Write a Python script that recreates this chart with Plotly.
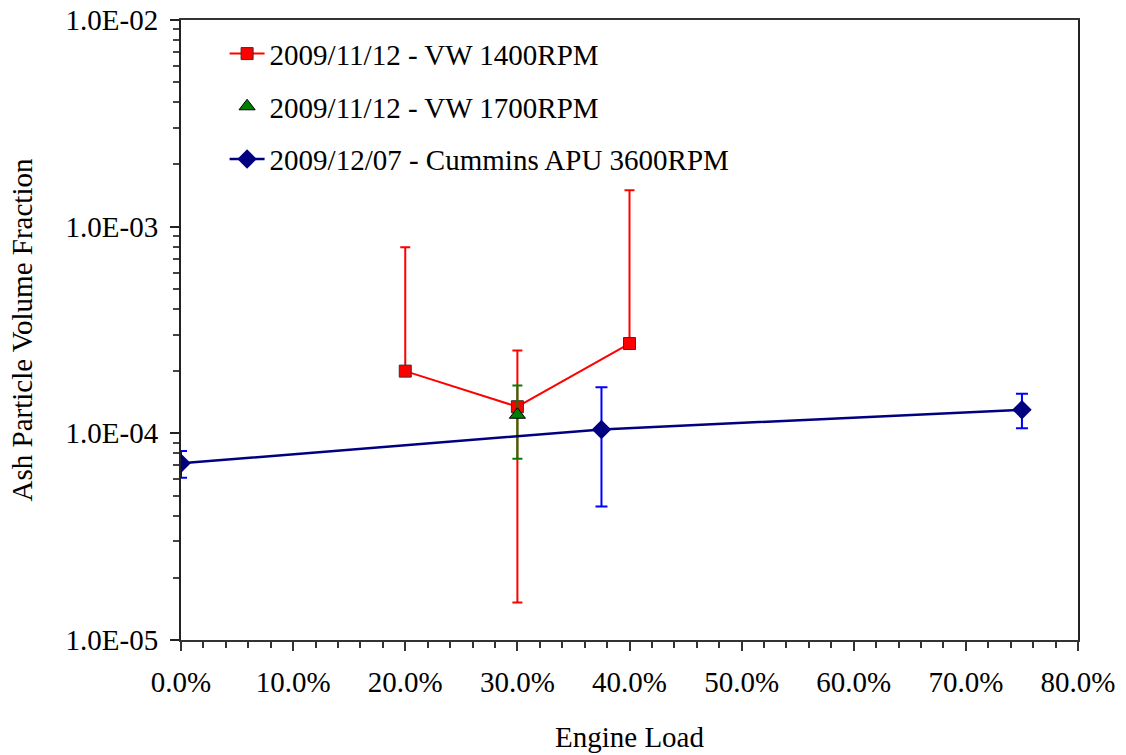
import plotly.graph_objects as go

# ---- data ----
vw1400_load = [0.20, 0.30, 0.40]
vw1400_val = [2.00e-4, 1.345e-4, 2.72e-4]
vw1400_hi = [7.94e-4, 2.52e-4, 1.50e-3]
vw1400_lo = [2.00e-4, 1.52e-5, 2.72e-4]

vw1700_load = [0.30]
vw1700_val = [1.23e-4]
vw1700_hi = [1.705e-4]
vw1700_lo = [7.53e-5]

apu_load = [0.0, 0.375, 0.75]
apu_val = [7.16e-5, 1.045e-4, 1.30e-4]
apu_hi = [8.21e-5, 1.67e-4, 1.556e-4]
apu_lo = [6.10e-5, 4.42e-5, 1.057e-4]

y_tickvals = [1e-5, 1e-4, 1e-3, 1e-2]
y_ticktext = ["1.0E-05", "1.0E-04", "1.0E-03", "1.0E-02"]

FONT = "Times New Roman, Liberation Serif, DejaVu Serif, serif"


def err(vals, hi, lo, color, width):
    return dict(
        type="data", symmetric=False,
        array=[h - v for h, v in zip(hi, vals)],
        arrayminus=[v - l for v, l in zip(vals, lo)],
        color=color, thickness=2, width=width,
    )


fig = go.Figure()
fig.add_trace(go.Scatter(
    x=vw1400_load, y=vw1400_val, mode="lines+markers",
    name="2009/11/12 - VW 1400RPM", legendgroup="a",
    line=dict(color="#FF0000", width=2),
    marker=dict(symbol="square", size=12, color="#FF0000",
                line=dict(color="#333333", width=1)),
    error_y=err(vw1400_val, vw1400_hi, vw1400_lo, "#FF0000", 5),
))
fig.add_trace(go.Scatter(
    x=vw1700_load, y=vw1700_val, mode="markers",
    name="2009/11/12 - VW 1700RPM", legendgroup="b",
    marker=dict(symbol="triangle-up", size=14, color="#008000",
                line=dict(color="#000000", width=1)),
    error_y=err(vw1700_val, vw1700_hi, vw1700_lo, "#008000", 5),
))
fig.add_trace(go.Scatter(
    x=apu_load, y=apu_val, mode="lines+markers",
    name="2009/12/07 - Cummins APU 3600RPM", legendgroup="c",
    line=dict(color="#000080", width=2.5),
    marker=dict(symbol="diamond", size=15, color="#000080"),
    error_y=err(apu_val, apu_hi, apu_lo, "#0000FF", 6),
))

minor_y = [m * 10 ** e for e in (-5, -4, -3) for m in range(2, 10)]

fig.update_layout(
    width=1126, height=755,
    margin=dict(l=181, r=48, t=20, b=115, autoexpand=False),
    paper_bgcolor="white", plot_bgcolor="white",
    font=dict(family=FONT, size=29, color="black"),
    showlegend=True,
    legend=dict(
        x=0.0486, y=0.9867, xanchor="left", yanchor="top",
        bgcolor="rgba(0,0,0,0)", borderwidth=0,
        font=dict(family=FONT, size=29, color="black"),
        tracegroupgap=12, itemwidth=35,
    ),
    xaxis=dict(
        range=[0, 0.8], dtick=0.1, tick0=0, tickformat=".1%",
        showgrid=False, zeroline=False, automargin=False,
        showline=True, linecolor="#333333", linewidth=2, mirror=True,
        ticks="outside", ticklen=9, tickwidth=2, tickcolor="#333333",
        ticklabelstandoff=6,
        minor=dict(dtick=0.02, ticks="outside", ticklen=6, tickwidth=1.5,
                   tickcolor="#333333", showgrid=False),
        title=dict(text="Engine Load", standoff=30,
                   font=dict(family=FONT, size=29)),
        tickfont=dict(family=FONT, size=29),
    ),
    yaxis=dict(
        type="log", range=[-5, -2], automargin=False,
        tickvals=y_tickvals, ticktext=y_ticktext,
        showgrid=False, zeroline=False,
        showline=True, linecolor="#222222", linewidth=2, mirror=True,
        ticks="outside", ticklen=9, tickwidth=2, tickcolor="#222222",
        ticklabelstandoff=6,
        minor=dict(tickvals=minor_y, ticks="outside", ticklen=6, tickwidth=1.5,
                   tickcolor="#444444", showgrid=False),
        title=dict(text="Ash Particle Volume Fraction", standoff=24,
                   font=dict(family=FONT, size=29)),
        tickfont=dict(family=FONT, size=29),
    ),
)

fig.write_html("out.html")
